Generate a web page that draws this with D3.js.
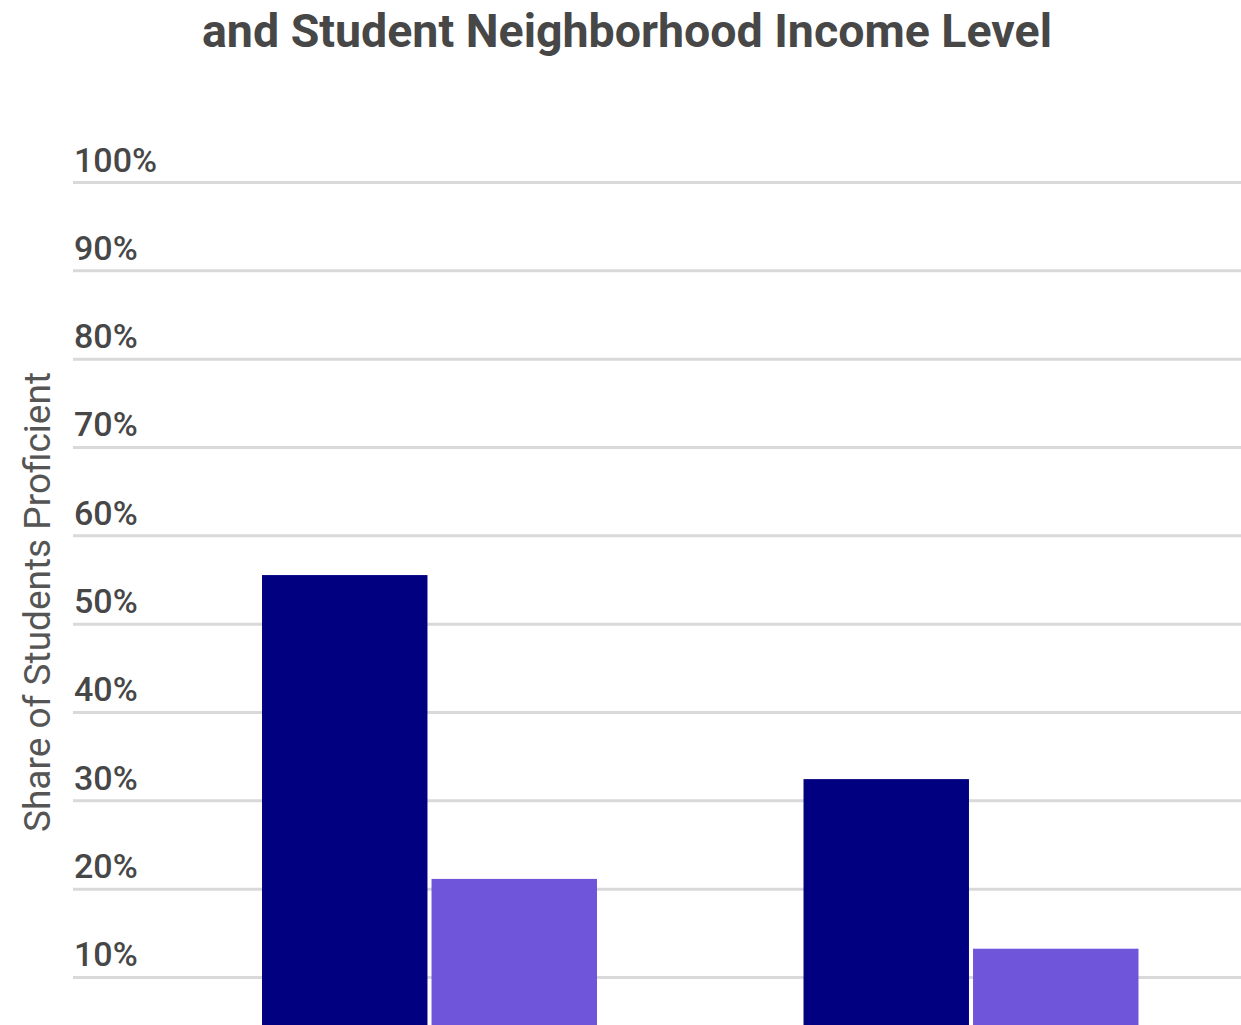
<!DOCTYPE html>
<html>
<head>
<meta charset="utf-8">
<script src="https://cdn.jsdelivr.net/npm/d3@7/dist/d3.min.js"></script>
<style>
  html, body { margin: 0; padding: 0; background: #ffffff; }
  svg { display: block; }
</style>
</head>
<body>
<svg id="chart" width="1241" height="1025"></svg>
<script>
// Share of students proficient, by group and neighborhood income
const categories = ["Group A", "Group B"];
const seriesNames = ["Higher income", "Lower income"];
const seriesColors = ["#000080", "#6f55d9"];
const higherIncome = [0.555, 0.324];
const lowerIncome = [0.211, 0.132];
const tickValues = [0.1, 0.2, 0.3, 0.4, 0.5, 0.6, 0.7, 0.8, 0.9, 1.0];

const titleText = "and Student Neighborhood Income Level";
const yAxisTitle = "Share of Students Proficient";

const svg = d3.select("#chart");

const x0 = d3.scaleBand()
  .domain(categories)
  .range([158.75, 1241.75])
  .paddingInner(0.3814)
  .paddingOuter(0.1907);

const x1 = d3.scaleBand()
  .domain(seriesNames)
  .range([0, x0.bandwidth()])
  .paddingInner(0.024);

const y = d3.scaleLinear().domain([0, 1]).range([1065.3, 182]);

const color = d3.scaleOrdinal().domain(seriesNames).range(seriesColors);

// Gridlines and tick labels
const yAxis = d3.axisLeft(y)
  .tickValues(tickValues)
  .tickSize(-(1241 - 73))
  .tickFormat(d3.format(".0%"));

const gAxis = svg.append("g")
  .attr("transform", "translate(73,0)")
  .call(yAxis);

gAxis.select(".domain").remove();
gAxis.selectAll(".tick line")
  .attr("stroke", "#d9d9d9")
  .attr("stroke-width", 3);
gAxis.selectAll(".tick text")
  .attr("x", 1)
  .attr("dy", "-11")
  .attr("text-anchor", "start")
  .attr("fill", "#474747")
  .style("font-family", "Roboto, sans-serif")
  .style("font-size", "34px")
  .style("font-weight", "500");

// Bars
const rows = categories.map((c, i) => ({
  category: c,
  values: [
    { key: seriesNames[0], value: higherIncome[i] },
    { key: seriesNames[1], value: lowerIncome[i] }
  ]
}));

svg.append("g")
  .selectAll("g")
  .data(rows)
  .join("g")
  .attr("transform", d => `translate(${x0(d.category)},0)`)
  .selectAll("rect")
  .data(d => d.values)
  .join("rect")
  .attr("x", d => x1(d.key))
  .attr("y", d => y(d.value))
  .attr("width", x1.bandwidth())
  .attr("height", d => y(0) - y(d.value))
  .attr("fill", d => color(d.key));

// Title
svg.append("text")
  .attr("x", 627)
  .attr("y", 47)
  .attr("text-anchor", "middle")
  .attr("fill", "#474747")
  .style("font-family", "Roboto, sans-serif")
  .style("font-size", "46.5px")
  .style("font-weight", "700")
  .text(titleText);

// Y axis title
svg.append("text")
  .attr("transform", "translate(50,602) rotate(-90)")
  .attr("text-anchor", "middle")
  .attr("fill", "#555555")
  .style("font-family", "Roboto, sans-serif")
  .style("font-size", "37px")
  .style("font-weight", "400")
  .text(yAxisTitle);
</script>
</body>
</html>
